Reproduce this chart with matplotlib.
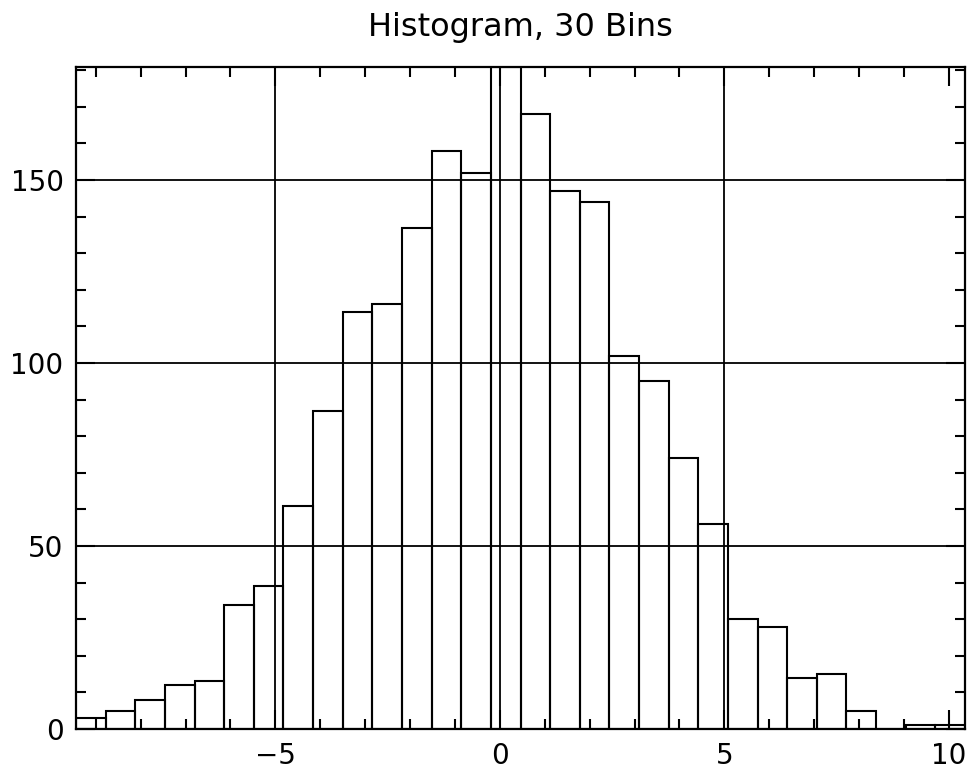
import numpy as np
import matplotlib
matplotlib.use('Agg')
from matplotlib import pyplot as plt
from matplotlib.ticker import MultipleLocator

# histogram of the sample: 30 bins spanning the data range
data_min = -9.44
data_max = 10.36
counts = [3, 5, 8, 12, 13, 34, 39, 61, 87, 114, 116, 137, 158, 152, 181,
          168, 147, 144, 102, 95, 74, 56, 30, 28, 14, 15, 5, 0, 1, 1]
x_ticks = [-5, 0, 5, 10]
y_ticks = [0, 50, 100, 150]

plt.rcParams['font.family'] = ['DejaVu Sans']

edges = np.linspace(data_min, data_max, len(counts) + 1)
width = edges[1] - edges[0]

fig = plt.figure(figsize=(9.71, 7.70), dpi=100)
ax = fig.add_axes([0.0783, 0.0532, 0.9155, 0.8604])

ax.bar(edges[:-1], counts, width=width, align='edge', fill=False,
       edgecolor='black', linewidth=1.5, zorder=3)

# grid lines drawn by hand (none at x=10)
for v in [-5, 0, 5]:
    ax.axvline(v, color='black', linewidth=1.3, zorder=2)
for v in [50, 100, 150]:
    ax.axhline(v, color='black', linewidth=1.3, zorder=2)

ax.set_xlim(data_min, data_max)
ax.set_ylim(0, max(counts))
ax.set_xticks(x_ticks)
ax.set_yticks(y_ticks)
ax.xaxis.set_minor_locator(MultipleLocator(1))
ax.yaxis.set_minor_locator(MultipleLocator(10))
ax.tick_params(which='both', direction='in', top=True, right=True,
               width=1.5, colors='black', labelsize=20)
ax.tick_params(which='major', length=14)
ax.tick_params(which='minor', length=7)
ax.tick_params(axis='x', pad=9)
ax.tick_params(axis='y', pad=9)
for sp in ax.spines.values():
    sp.set_linewidth(1.6)

ax.set_title('Histogram, 30 Bins', fontsize=23, pad=22)

fig.savefig('out.png', dpi=100)
